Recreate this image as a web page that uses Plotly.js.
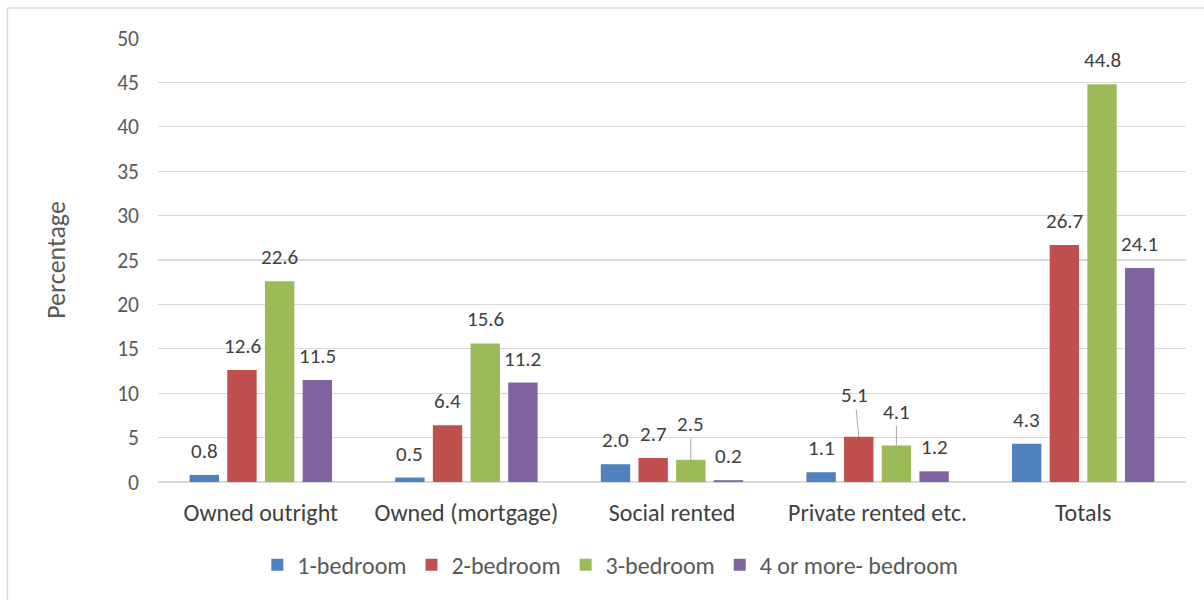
<!DOCTYPE html>
<html>
<head>
<meta charset="utf-8">
<script src="https://cdn.plot.ly/plotly-3.0.1.min.js"></script>
<style>
html,body{margin:0;padding:0;background:#fff;}
#chart{width:1204px;height:600px;}
</style>
</head>
<body>
<div id="chart"></div>
<script>
var categories = ["Owned outright", "Owned (mortgage)", "Social rented", "Private rented etc.", "Totals"];
var seriesNames = ["1-bedroom", "2-bedroom", "3-bedroom", "4 or more- bedroom"];
var oneBed = [0.8, 0.5, 2.0, 1.1, 4.3];
var twoBed = [12.6, 6.4, 2.7, 5.1, 26.7];
var threeBed = [22.6, 15.6, 2.5, 4.1, 44.8];
var fourBed = [11.5, 11.2, 0.2, 1.2, 24.1];
var colors = ["#4f81bd", "#c0504d", "#9bbb59", "#8064a2"];
var yTicks = [0, 5, 10, 15, 20, 25, 30, 35, 40, 45, 50];

var series = [oneBed, twoBed, threeBed, fourBed];
var FONT = "Carlito, Lato, 'Noto Sans', sans-serif";

var traces = series.map(function (vals, i) {
  return {
    type: "bar",
    name: seriesNames[i],
    x: categories,
    y: vals,
    marker: { color: colors[i] },
    hoverinfo: "x+y+name"
  };
});

// labels with leader lines: key "series_category" -> pixel offset above bar top
var leader = { "2_2": 36, "1_3": 42, "2_3": 34 };
var slotShift = [-56.5, -18.8, 18.8, 56.5];
var annotations = [];
series.forEach(function (vals, i) {
  vals.forEach(function (v, j) {
    var key = i + "_" + j;
    var a = {
      x: categories[j], y: v, xref: "x", yref: "y",
      text: v.toFixed(1),
      xshift: slotShift[i],
      font: { family: FONT, size: 21, color: "#404040" },
      showarrow: false
    };
    if (leader[key]) {
      a.showarrow = true;
      a.arrowhead = 0;
      a.arrowwidth = 1;
      a.arrowcolor = "#a6a6a6";
      a.ax = (key === "1_3") ? -4 : 0;
      a.ay = -leader[key];
      a.standoff = 0;
    } else {
      a.yshift = 24;
    }
    annotations.push(a);
  });
});

var layout = {
  width: 1204, height: 600,
  margin: { l: 158, r: 18, t: 38, b: 118 },
  paper_bgcolor: "#ffffff", plot_bgcolor: "#ffffff",
  font: { family: FONT, color: "#595959" },
  barmode: "group",
  bargap: 0.267,
  bargroupgap: 0.22,
  xaxis: {
    type: "category",
    tickfont: { family: FONT, size: 24, color: "#404040" },
    showgrid: false, zeroline: false,
    showline: false,
    ticks: "", ticklen: 0, ticklabelstandoff: 14
  },
  yaxis: {
    range: [0, 50],
    tickvals: yTicks,
    ticktext: yTicks.map(String),
    tickfont: { family: FONT, size: 21.5, color: "#595959" },
    showgrid: true, gridcolor: "#d9d9d9", gridwidth: 1.3,
    zeroline: true, zerolinecolor: "#d9d9d9", zerolinewidth: 1.3,
    showline: false, ticks: "", ticklabelstandoff: 18,
    title: { text: "Percentage", font: { family: FONT, size: 26, color: "#595959" }, standoff: 44 }
  },
  showlegend: true,
  legend: {
    orientation: "h",
    x: 0.44, xanchor: "center",
    y: -0.187, yanchor: "middle",
    font: { family: FONT, size: 24, color: "#595959" },
    itemwidth: 30,
    traceorder: "normal"
  },
  annotations: annotations,
  shapes: [
    { type: "line", xref: "paper", yref: "paper", x0: -0.1465, x1: 1.05, y0: 1.0676, y1: 1.0676, line: { color: "#d9d9d9", width: 1.5 } },
    { type: "line", xref: "paper", yref: "paper", x0: -0.1465, x1: -0.1465, y0: 1.0676, y1: -0.3, line: { color: "#d9d9d9", width: 1.5 } }
  ]
};

Plotly.newPlot("chart", traces, layout, { displayModeBar: false, staticPlot: true });
</script>
</body>
</html>
